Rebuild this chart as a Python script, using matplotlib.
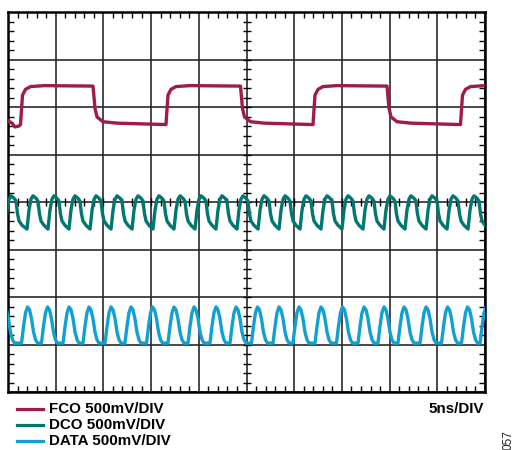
import matplotlib
matplotlib.use("Agg")
import matplotlib.pyplot as plt
from matplotlib.lines import Line2D
import numpy as np

plt.rcParams["font.family"] = ["Liberation Sans", "DejaVu Sans"]

# time axis in ns (5 ns/div, 10 div), vertical axis in divisions (500 mV/div)
ns_per_div = 5.0
n_xdiv, n_ydiv = 10, 8

# FCO: edge times (ns) and the shape around each edge (offset ns, level div)
fco_start = [(0.0, 1.71), (0.42, 1.66), (0.73, 1.58), (1.15, 1.60)]
fco_rise_ns = [1.31, 16.56, 31.97, 47.43]
fco_fall_ns = [8.91, 24.37, 39.73]
fco_rise_shape = [(0.0, 1.63), (0.21, 2.25), (0.52, 2.37), (1.05, 2.43), (2.5, 2.45)]
fco_fall_shape = [(0.0, 2.44), (0.21, 1.97), (0.42, 1.79), (1.05, 1.69), (2.5, 1.66)]

# DCO: rising edges (ns) and one cycle shape
dco_rise_ns = [-0.31, 1.99, 4.19, 6.39, 8.60, 10.80, 13.00, 15.20, 17.40, 19.60,
               21.80, 24.00, 26.21, 28.41, 30.61, 32.81, 35.01, 37.21, 39.41,
               41.61, 43.82, 46.02, 48.22]
dco_shape = [(0.0, -0.57), (0.21, -0.17), (0.42, 0.06), (0.63, 0.13), (0.94, 0.08),
             (1.15, 0.02), (1.31, -0.25), (1.47, -0.40), (1.78, -0.49)]

# DATA: rising edges (ns) and one cycle shape
data_rise_ns = [-1.00, 1.42, 3.51, 5.77, 7.86, 10.17, 12.26, 14.52, 16.77, 18.87,
                21.17, 23.27, 25.52, 27.78, 29.87, 32.18, 34.43, 36.69, 38.78,
                40.88, 43.19, 45.44, 47.54, 49.48]
data_shape = [(0.0, -2.97), (0.21, -2.62), (0.42, -2.33), (0.63, -2.21), (0.84, -2.27),
              (1.05, -2.46), (1.26, -2.74), (1.47, -2.90), (1.68, -2.97)]

labels = ["FCO 500mV/DIV", "DCO 500mV/DIV", "DATA 500mV/DIV"]
colors = ["#A01B46", "#00786F", "#12A0D3"]


def build_periodic(rises, shape):
    t, v = [], []
    for r in rises:
        for dt, lv in shape:
            t.append(r + dt)
            v.append(lv)
    return t, v


def build_fco():
    t = [p[0] for p in fco_start]
    v = [p[1] for p in fco_start]
    edges = sorted([(r, fco_rise_shape) for r in fco_rise_ns] +
                   [(f, fco_fall_shape) for f in fco_fall_ns])
    for i, (e, shape) in enumerate(edges):
        nxt = edges[i + 1][0] if i + 1 < len(edges) else 60
        for dt, lv in shape:
            if e + dt < nxt:
                t.append(e + dt)
                v.append(lv)
    return t, v


fig = plt.figure(figsize=(5.15, 4.5), dpi=100)
ax = fig.add_axes([8 / 515, 58 / 450, 477 / 515, 380 / 450])

xmax = n_xdiv * ns_per_div
ax.set_xlim(0, xmax)
ax.set_ylim(-n_ydiv / 2, n_ydiv / 2)

major_x = np.arange(0, xmax + 0.1, ns_per_div)
minor_x = np.arange(0, xmax + 0.1, ns_per_div / 5)
major_y = np.arange(-4, 4.1, 1)
minor_y = np.arange(-4, 4.01, 0.2)

ax.set_xticks(major_x)
ax.set_yticks(major_y)
ax.set_xticks(minor_x, minor=True)
ax.set_yticks(minor_y, minor=True)
ax.tick_params(which="both", labelbottom=False, labelleft=False)
ax.tick_params(which="major", length=0)
ax.tick_params(which="minor", direction="in", length=4, width=1,
               top=True, right=True, color="black")
ax.grid(True, which="major", color="#2a2a2a", lw=1.2)
for s in ax.spines.values():
    s.set_linewidth(1.8)
    s.set_color("black")

# ticks on the centre cross
ax.plot(minor_x, np.zeros_like(minor_x), ls="none", marker="|", ms=6,
        mew=1.0, color="black", zorder=3)
ax.plot(np.full_like(minor_y, xmax / 2), minor_y, ls="none", marker="_", ms=6,
        mew=1.0, color="black", zorder=3)

t, v = build_fco()
ax.plot(t, v, color=colors[0], lw=2.4, zorder=4, solid_joinstyle="round")
t, v = build_periodic(dco_rise_ns, dco_shape)
ax.plot(t, v, color=colors[1], lw=2.4, zorder=4, solid_joinstyle="round")
t, v = build_periodic(data_rise_ns, data_shape)
ax.plot(t, v, color=colors[2], lw=2.4, zorder=4, solid_joinstyle="round")

# legend-like labels under the screen
for i, (lab, c) in enumerate(zip(labels, colors)):
    y = 1 - (409 + i * 16) / 450
    fig.add_artist(Line2D([17 / 515, 43 / 515], [y, y], color=c, lw=2.3,
                          transform=fig.transFigure))
    fig.text(49 / 515, y, lab, fontsize=10.9, fontweight="bold",
             va="center", ha="left")

fig.text(484 / 515, 1 - 409 / 450, "5ns/DIV", fontsize=10.9, fontweight="bold",
         va="center", ha="right")
fig.text(508 / 515, 1 - 440 / 450, "057", fontsize=8.5, rotation=90,
         va="center", ha="center", color="#222222")

fig.savefig("out.png", dpi=100)
